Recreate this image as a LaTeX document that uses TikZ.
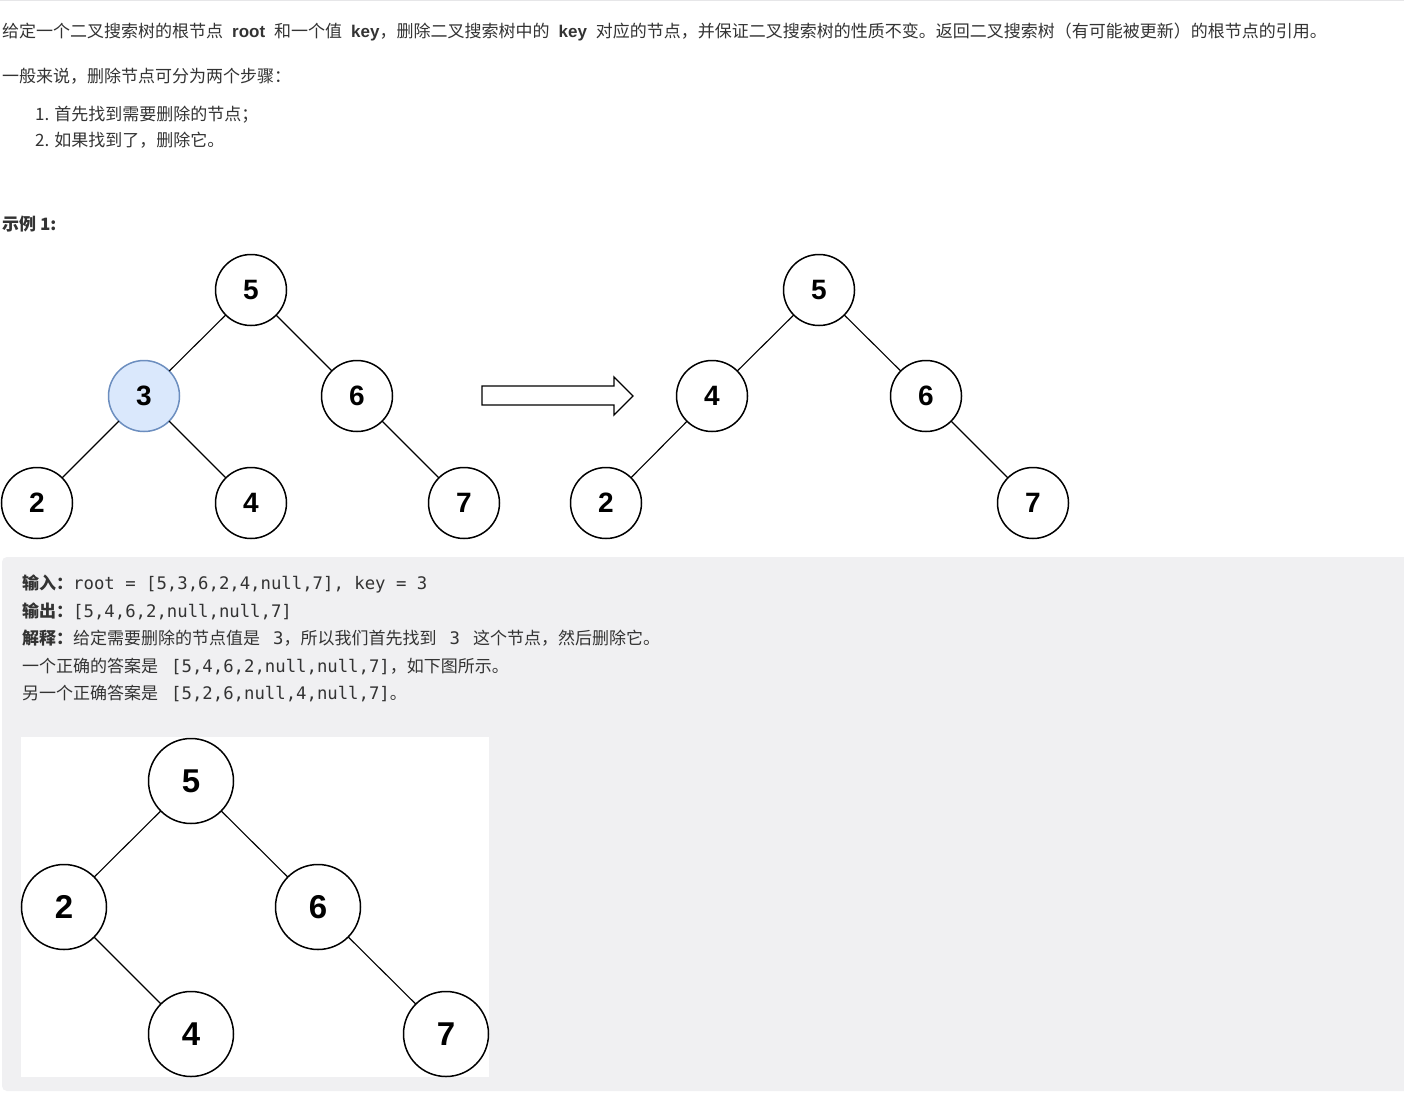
\documentclass[tikz,border=0pt]{standalone}
\usepackage{fontspec}
\setmainfont{Noto Sans CJK SC}
\newfontfamily\codefont{DejaVu Sans Mono}
\newfontfamily\numfont{Liberation Sans}
\usetikzlibrary{positioning}

\definecolor{bodytext}{HTML}{333333}
\definecolor{boxgray}{HTML}{F0F0F2}
\definecolor{rulegray}{HTML}{E6E6E8}
\definecolor{hitfill}{HTML}{DAE8FC}
\definecolor{hitdraw}{HTML}{6C8EBF}

\begin{document}
\begin{tikzpicture}[x=1pt,y=-1pt]
  \tikzstyle{txt}=[
    anchor=base west, inner sep=0, text=bodytext,
    font=\fontsize{17}{20}\selectfont
  ]
  \tikzstyle{bst}=[
    draw, circle, fill=white,
    minimum size=71, inner sep=0, outer sep=0,
    line width=1.5pt,
    font=\numfont\bfseries\fontsize{28}{28}\selectfont
  ]
  \tikzstyle{hit}=[bst,
    fill=hitfill, draw=hitdraw
  ]
  \tikzstyle{big}=[bst,
    minimum size=85,
    font=\numfont\bfseries\fontsize{33}{33}\selectfont
  ]
  \tikzstyle{edge}=[line width=1.1pt]
  \newcommand{\cd}[1]{{\codefont\fontsize{17.3}{20}\selectfont #1}}
  \newcommand{\kw}[1]{\hspace{9pt}{\numfont\bfseries #1}\hspace{9pt}}
  \newcommand{\gap}{\hspace{13pt}}

  \useasboundingbox (0,0) rectangle (1404,1102);
  \fill[white] (0,0) rectangle (1404,1102);
  \fill[rulegray] (0,0) rectangle (1404,1.5);

  % statement
  \node[txt] (line1) at (2,38) {给定一个二叉搜索树的根节点\kw{root}和一个值\kw{key}\hspace{-9pt}，删除二叉搜索树中的\kw{key}对应的节点，并保证二叉搜索树的性质不变。返回二叉搜索树（有可能被更新）的根节点的引用。};
  \node[txt] (line2) at (2,83) {一般来说，删除节点可分为两个步骤：};
  \node[txt] (item1) at (35,121) {1. 首先找到需要删除的节点；};
  \node[txt] (item2) at (35,147) {2. 如果找到了，删除它。};
  \node[txt] (example) at (2,230) {\textbf{示例 1:}};

  % tree before
  \node[bst] (a5) at (251,290) {5};
  \node[hit] (a3) at (144,396) {3};
  \node[bst] (a6) at (357,396) {6};
  \node[bst] (a2) at (37,503) {2};
  \node[bst] (a4) at (251,503) {4};
  \node[bst] (a7) at (464,503) {7};
  \draw[edge] (a5) -- (a3) (a5) -- (a6) (a3) -- (a2) (a3) -- (a4) (a6) -- (a7);

  % fat arrow
  \draw[line width=1.3pt, fill=white] (482,386) -- (614,386) -- (614,377) -- (633,396)
    -- (614,415) -- (614,405) -- (482,405) -- cycle;

  % tree after
  \node[bst] (b5) at (819,290) {5};
  \node[bst] (b4) at (712,396) {4};
  \node[bst] (b6) at (926,396) {6};
  \node[bst] (b2) at (606,503) {2};
  \node[bst] (b7) at (1033,503) {7};
  \draw[edge] (b5) -- (b4) (b5) -- (b6) (b4) -- (b2) (b6) -- (b7);

  % example box
  \fill[boxgray, rounded corners=5pt] (2,557) rectangle (1420,1091);
  \node[txt] (input) at (22,589) {\textbf{输入：}\cd{root = [5,3,6,2,4,null,7], key = 3}};
  \node[txt] (output) at (22,617) {\textbf{输出：}\cd{[5,4,6,2,null,null,7]}};
  \node[txt] (explain) at (22,644) {\textbf{解释：}给定需要删除的节点值是\gap\cd{3}，所以我们首先找到\gap\cd{3}\gap 这个节点，然后删除它。};
  \node[txt] (answer1) at (22,672) {一个正确的答案是\gap\cd{[5,4,6,2,null,null,7]}，如下图所示。};
  \node[txt] (answer2) at (22,699) {另一个正确答案是\gap\cd{[5,2,6,null,4,null,7]}。};

  % other answer
  \fill[white] (21,737) rectangle (489,1077);
  \node[big] (c5) at (191,781) {5};
  \node[big] (c2) at (64,907) {2};
  \node[big] (c6) at (318,907) {6};
  \node[big] (c4) at (191,1034) {4};
  \node[big] (c7) at (446,1034) {7};
  \draw[edge] (c5) -- (c2) (c5) -- (c6) (c2) -- (c4) (c6) -- (c7);
\end{tikzpicture}
\end{document}
